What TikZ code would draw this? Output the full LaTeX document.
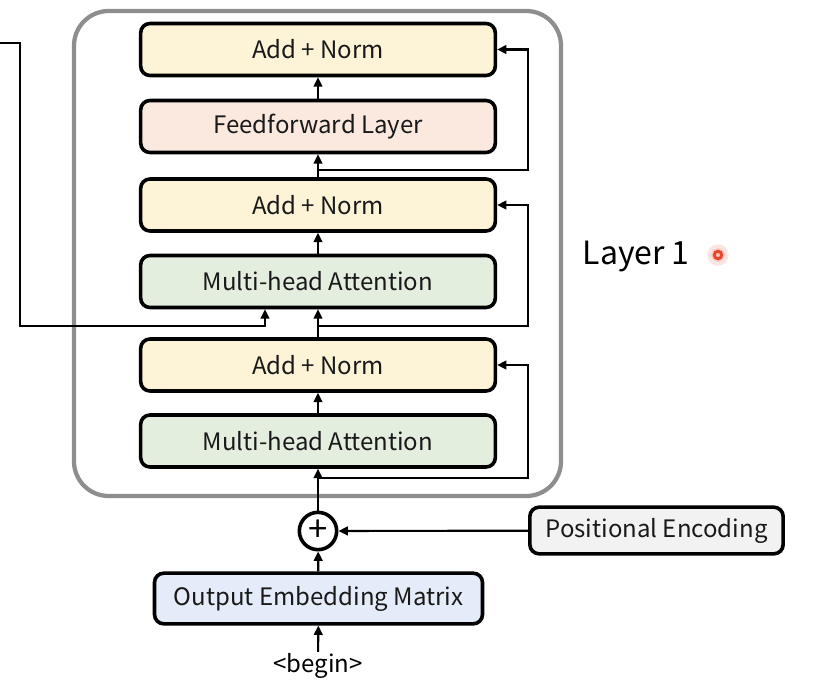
\documentclass[tikz,border=0pt]{standalone}
\usepackage{fontspec}
\setmainfont{Noto Sans CJK KR}
\usepackage{tikz}
\usetikzlibrary{arrows.meta,positioning,scopes}
\definecolor{normfill}{HTML}{FDF3D6}
\definecolor{ffnfill}{HTML}{FBE9DF}
\definecolor{attfill}{HTML}{E4EEDE}
\definecolor{embfill}{HTML}{E3ECF8}
\definecolor{posfill}{HTML}{F2F2F2}
\definecolor{layergray}{HTML}{8E8E8E}
\definecolor{dotred}{HTML}{E8452C}
\tikzset{block/.style={rectangle,rounded corners=7pt,line width=2.7pt,draw=black,minimum width=266pt,minimum height=39pt,inner sep=0pt,text=black!90,font=\fontsize{18}{22}\selectfont}}
\tikzset{arr/.style={line width=1.6pt,-{Triangle[length=7pt,width=6.5pt]}}}
\begin{document}
\begin{tikzpicture}[x=0.75pt,y=-0.75pt]
  \useasboundingbox (0,0) rectangle (814,686);
  % encoder layer frame
  \draw[layergray,line width=3.2pt,rounded corners=26pt] (74,11) rectangle (561,496);
  \node[block,fill=normfill] (addnormc) at (318,49.5) {Add + Norm};
  \node[block,fill=ffnfill] (ffn) at (318,126.5) {Feedforward Layer};
  \node[block,fill=normfill] (addnormb) at (318,205) {Add + Norm};
  \node[block,fill=attfill] (mhab) at (318,281.5) {Multi-head Attention};
  \node[block,fill=normfill] (addnorma) at (318,365) {Add + Norm};
  \node[block,fill=attfill] (mhaa) at (318,441) {Multi-head Attention};
  \node[circle,draw=black,line width=2.7pt,minimum size=28pt,inner sep=0pt,font=\fontsize{26}{26}\selectfont] (plus) at (318,531) {+};
  \node[block,fill=posfill,minimum width=190pt,minimum height=35pt] (posenc) at (656.5,530.5) {Positional Encoding};
  \node[block,fill=embfill,minimum width=246pt,minimum height=38pt] (embed) at (318.5,598.5) {Output Embedding Matrix};
  \node[font=\fontsize{18}{22}\selectfont,inner sep=1pt] (start) at (318,666) {<begin>};
  \node[font=\fontsize{24}{28}\selectfont,anchor=west] (layer) at (578,257) {Layer 1};
  % pointer
  \fill[dotred!20,opacity=0.7] (718,255) circle (8pt);
  \fill[dotred!40,opacity=0.6] (718,255) circle (5pt);
  \draw[dotred,line width=2.2pt] (718,255) circle (2.8pt);
  % main path
  \draw[arr] (start) -- (embed);
  \draw[arr] (embed) -- (plus);
  \draw[arr] (posenc) -- (plus);
  \draw[arr] (plus) -- (mhaa);
  \draw[arr] (mhaa) -- (addnorma);
  \draw[arr] (addnorma) -- (mhab);
  \draw[arr] (mhab) -- (addnormb);
  \draw[arr] (addnormb) -- (ffn);
  \draw[arr] (ffn) -- (addnormc);
  % residual connections
  \coordinate (resa) at (318,478);
  \coordinate (resb) at (318,326);
  \coordinate (resc) at (318,170);
  \draw[arr] (resa) -- ++(210,0) |- (addnorma.east);
  \draw[arr] (resb) -- ++(210,0) |- (addnormb.east);
  \draw[arr] (resc) -- ++(210,0) |- (addnormc.east);
  % encoder output
  \coordinate (enc) at (0,43);
  \coordinate (cross) at (265,326);
  \draw[arr] (enc) -- ++(20,0) |- (cross) -- (cross |- mhab.south);
\end{tikzpicture}
\end{document}
